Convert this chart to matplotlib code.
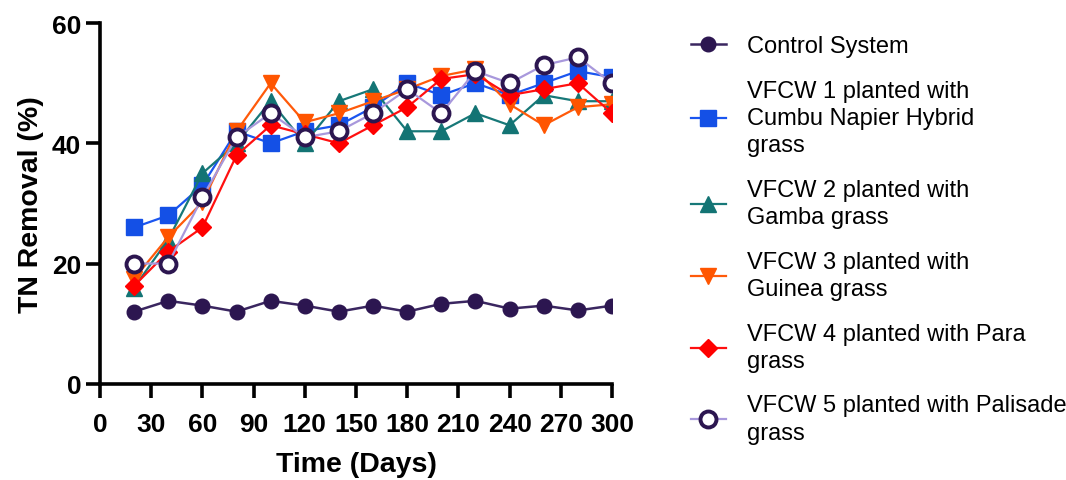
import matplotlib
matplotlib.use("Agg")
from matplotlib import pyplot as plt
import numpy as np

plt.rcParams['font.family'] = ['Liberation Sans', 'DejaVu Sans']

# 数据
days = [20, 40, 60, 80, 100, 120, 140, 160, 180, 200, 220, 240, 260, 280, 300]
control = [12, 13.8, 13, 12, 13.8, 13, 12, 13, 12, 13.3, 13.8, 12.5, 13, 12.2, 13]
vfcw1 = [26, 28, 33, 42, 40, 42, 43, 46, 50, 48, 50, 48, 50, 52, 51]
vfcw2 = [16, 24, 35, 40, 47, 40, 47, 49, 42, 42, 45, 43, 48, 47, 47]
vfcw3 = [17.5, 24.4, 30.2, 42, 50, 43.5, 45, 47, 49, 51.2, 52.3, 46.5, 43, 46, 46.5]
vfcw4 = [16.3, 22, 26, 38, 43, 41.5, 40, 43, 46, 50.7, 51.5, 48, 49, 50, 45]
vfcw5 = [20, 20, 31, 41, 45, 41, 42, 45, 49, 45, 52, 50, 53, 54.3, 50]

labels = ["Control System",
          "VFCW 1 planted with\nCumbu Napier Hybrid\ngrass",
          "VFCW 2 planted with\nGamba grass",
          "VFCW 3 planted with\nGuinea grass",
          "VFCW 4 planted with Para\ngrass",
          "VFCW 5 planted with Palisade\ngrass"]
xticks = [0, 30, 60, 90, 120, 150, 180, 210, 240, 270, 300]
yticks = [0, 20, 40, 60]

fig = plt.figure(figsize=(10.66, 4.81), dpi=100)
ax = fig.add_axes([0.0938, 0.2, 0.4803, 0.75])

ax.plot(days, control, color='#3a2660', lw=1.8, marker='o', ms=10.5,
        mfc='#2c1650', mec='#2c1650', label=labels[0])
ax.plot(days, vfcw1, color='#1a55f0', lw=1.6, marker='s', ms=11,
        mfc='#1450e6', mec='#1450e6', label=labels[1])
ax.plot(days, vfcw2, color='#177878', lw=1.6, marker='^', ms=12,
        mfc='#137474', mec='#137474', label=labels[2])
ax.plot(days, vfcw3, color='#ff5a0a', lw=1.6, marker='v', ms=12,
        mfc='#ff5500', mec='#ff5500', label=labels[3])
ax.plot(days, vfcw4, color='#ff1010', lw=1.6, marker='D', ms=9,
        mfc='#ff0000', mec='#ff0000', label=labels[4])
ax.plot(days, vfcw5, color='#a898dc', lw=1.6, marker='o', ms=11.5,
        mfc='white', mec='#2c1650', mew=2.8, label=labels[5])

ax.set_xlim(0, 300)
ax.set_ylim(0, 60)
ax.set_xticks(xticks)
ax.set_yticks(yticks)
for s in ['top', 'right']:
    ax.spines[s].set_visible(False)
for s in ['left', 'bottom']:
    ax.spines[s].set_linewidth(2.6)
ax.tick_params(width=2.6, length=10, labelsize=19)
ax.tick_params(axis='x', pad=10)
ax.tick_params(axis='y', pad=3.5)
for t in ax.get_xticklabels() + ax.get_yticklabels():
    t.set_fontweight('bold')
ax.set_xlabel("Time (Days)", fontsize=20.5, fontweight='bold', labelpad=11)
ax.set_ylabel("TN Removal (%)", fontsize=20.5, fontweight='bold', labelpad=6)

leg = fig.legend(loc='upper left', bbox_to_anchor=(0.648, 0.925), frameon=False,
                 fontsize=17, handlelength=1.5, handletextpad=0.9,
                 labelspacing=0.95, borderpad=0, borderaxespad=0)
for t in leg.get_texts():
    t.set_linespacing(1.32)

fig.savefig("out.png", dpi=100)
